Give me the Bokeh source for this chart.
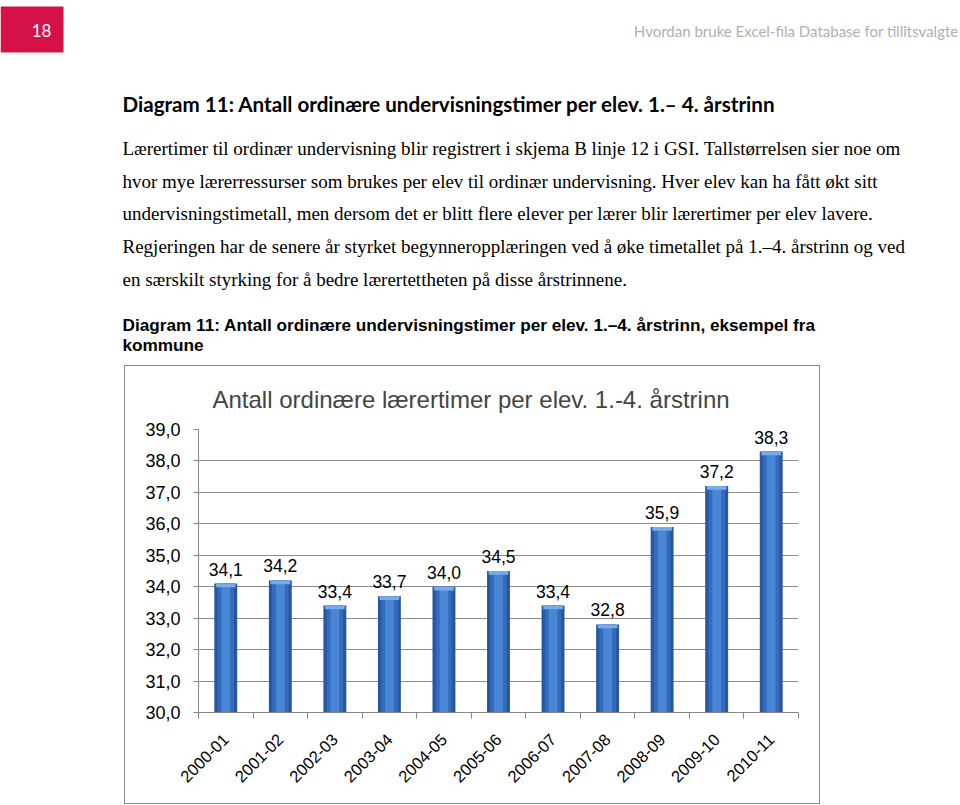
from math import pi
from bokeh.plotting import figure
from bokeh.models import Range1d, FixedTicker, ColumnDataSource, Spacer
from bokeh.layouts import column, row
from bokeh.core.properties import value
from bokeh.embed import file_html
from bokeh.resources import INLINE

# ---------------- data ----------------
categories = ["2000-01", "2001-02", "2002-03", "2003-04", "2004-05", "2005-06",
              "2006-07", "2007-08", "2008-09", "2009-10", "2010-11"]
values = [34.1, 34.2, 33.4, 33.7, 34.0, 34.5, 33.4, 32.8, 35.9, 37.2, 38.3]
y_ticks = [30, 31, 32, 33, 34, 35, 36, 37, 38, 39]

page_number = "18"
running_head = "Hvordan bruke Excel-fila Database for tillitsvalgte"
heading = "Diagram 11: Antall ordinære undervisningstimer per elev. 1.\u2013 4. årstrinn"
paragraph = [
    "Lærertimer til ordinær undervisning blir registrert i skjema B linje 12 i GSI. Tallstørrelsen sier noe om",
    "hvor mye lærerressurser som brukes per elev til ordinær undervisning. Hver elev kan ha fått økt sitt",
    "undervisningstimetall, men dersom det er blitt flere elever per lærer blir lærertimer per elev lavere.",
    "Regjeringen har de senere år styrket begynneropplæringen ved å øke timetallet på 1.\u20134. årstrinn og ved",
    "en særskilt styrking for å bedre lærertettheten på disse årstrinnene.",
]
caption = [
    "Diagram 11: Antall ordinære undervisningstimer per elev. 1.\u20134. årstrinn, eksempel fra",
    "kommune",
]
chart_title = "Antall ordinære lærertimer per elev. 1.-4. årstrinn"

# ---------------- top page part ----------------
TOP_H = 365
top = figure(width=960, height=TOP_H, x_range=Range1d(0, 960), y_range=Range1d(TOP_H, 0),
             output_backend="svg", toolbar_location=None, min_border=0)
top.axis.visible = False
top.grid.visible = False
top.outline_line_color = None

top.quad(left=[0], right=[63], top=[6], bottom=[52], fill_color="#d51149", line_color=None)
top.text(x=[41], y=[30], text=[page_number], text_color="white", text_font=value("Lato"),
         text_font_size="17px", text_align="center", text_baseline="middle")
top.text(x=[958], y=[30], text=[running_head], text_color="#b0b0b0", text_font=value("Lato"),
         text_font_size="15px", text_align="right", text_baseline="middle")
top.text(x=[122], y=[103], text=[heading], text_color="black", text_font=value("Lato"),
         text_font_style="bold", text_font_size="20.6px", text_align="left", text_baseline="middle")
par_y = [148, 181, 213, 246, 279]
top.text(x=[122] * len(paragraph), y=par_y, text=paragraph, text_color="black",
         text_font=value("Liberation Serif"), text_font_size="19px",
         text_align="left", text_baseline="middle")
top.text(x=[122, 122], y=[324, 344], text=caption, text_color="black",
         text_font=value("Liberation Sans"), text_font_style="bold", text_font_size="17.2px",
         text_align="left", text_baseline="middle")

# ---------------- chart ----------------
xs = list(range(1, len(categories) + 1))
labels = [f"{v:.1f}".replace(".", ",") for v in values]
src = ColumnDataSource(dict(x=xs, top=values, lab=labels,
                            cap=[v - 0.12 for v in values]))

p = figure(width=696, height=439, x_range=Range1d(0.5, len(categories) + 0.5),
           y_range=Range1d(30, 39), output_backend="svg", toolbar_location=None,
           min_border_left=73, min_border_right=23, min_border_top=62, min_border_bottom=93,
           styles={"border": "1px solid #8c8c8c", "box-sizing": "border-box"})
p.title.text = chart_title
p.title.text_font = "Liberation Sans"
p.title.text_font_style = "normal"
p.title.text_font_size = "24px"
p.title.align = "left"
p.title.offset = 14
p.title.standoff = 34
p.outline_line_color = None

p.vbar(x="x", top="top", bottom=30, width=0.42, source=src, fill_color="#2857a0", line_color=None)
p.vbar(x="x", top="top", bottom=30, width=0.30, source=src, fill_color="#346cbb", line_color=None)
p.vbar(x="x", top="top", bottom=30, width=0.16, source=src, fill_color="#4a86d6", line_color=None)
p.vbar(x="x", top="top", bottom="cap", width=0.36, source=src, fill_color="#78abe9", line_color=None)
p.text(x="x", y="top", text="lab", source=src, y_offset=-8, text_align="center",
       text_baseline="bottom", text_font=value("Liberation Sans"), text_font_size="17.5px",
       text_color="black")

p.xgrid.grid_line_color = None
p.ygrid.ticker = FixedTicker(ticks=y_ticks)
p.ygrid.grid_line_color = "#8c8c8c"

p.yaxis.ticker = FixedTicker(ticks=y_ticks)
p.yaxis.major_label_overrides = {t: f"{t:.1f}".replace(".", ",") for t in y_ticks}
p.yaxis.major_label_text_font = "Liberation Sans"
p.yaxis.major_label_text_font_size = "18px"
p.yaxis.major_label_text_color = "black"
p.yaxis.axis_line_color = "#868686"
p.yaxis.major_tick_line_color = "#868686"
p.yaxis.major_tick_out = 5
p.yaxis.major_tick_in = 0
p.yaxis.minor_tick_line_color = None
p.yaxis.major_label_standoff = 13

p.xaxis.ticker = FixedTicker(ticks=xs, minor_ticks=[x - 0.5 for x in xs] + [xs[-1] + 0.5])
p.xaxis.major_label_overrides = {x: c for x, c in zip(xs, categories)}
p.xaxis.major_label_orientation = pi / 4
p.xaxis.major_label_text_font = "Liberation Sans"
p.xaxis.major_label_text_font_size = "16.5px"
p.xaxis.major_label_text_color = "black"
p.xaxis.axis_line_color = "#868686"
p.xaxis.major_tick_line_color = None
p.xaxis.minor_tick_line_color = "#868686"
p.xaxis.minor_tick_out = 6
p.xaxis.minor_tick_in = 0
p.xaxis.major_label_standoff = 18

layout = column(top, row(Spacer(width=124, height=439), p), spacing=0)
open("out.html", "w").write(file_html(layout, INLINE))
